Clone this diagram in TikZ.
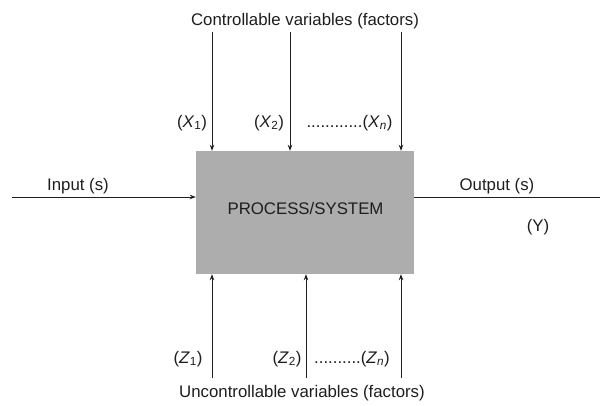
\documentclass[tikz,border=0pt]{standalone}
\usepackage{fontspec}
\setmainfont{Liberation Sans}
\usetikzlibrary{arrows.meta}
\definecolor{boxgray}{HTML}{ADADAD}
\definecolor{ink}{HTML}{1E1E1E}
\tikzset{
  lbl/.style={font=\fontsize{16.8}{20}\selectfont, text=ink, inner sep=0pt},
  arr/.style={draw=ink, line width=0.9pt, -{Stealth[length=6pt,width=4.5pt]}},
  ln/.style={draw=ink, line width=0.9pt},
  procbox/.style={fill=boxgray, draw=none, minimum width=218pt, minimum height=123pt, inner sep=0pt}
}
\begin{document}
\begin{tikzpicture}[x=1pt,y=-1pt]
\useasboundingbox (0,0) rectangle (600,405);
\node[procbox] (proc) at (305,212.5) {};
\node[lbl] (ptext) at (305.5,208) {PROCESS/SYSTEM};
% top
\node[lbl] (ctitle) at (305,21) {Controllable variables (factors)};
\coordinate (t1) at (212,32);
\coordinate (t2) at (290,32);
\coordinate (t3) at (401,32);
\draw[arr] (t1) -- (t1 |- proc.north);
\draw[arr] (t2) -- (t2 |- proc.north);
\draw[arr] (t3) -- (t3 |- proc.north);
\node[lbl] (x1) at (192,122.7) {(\textit{X}\textsubscript{1})};
\node[lbl] (x2) at (269,122.7) {(\textit{X}\textsubscript{2})};
\node[lbl] (xn) at (349.5,122.7) {............(\textit{X}\textsubscript{\textit{n}})};
% bottom
\coordinate (b1) at (212,378);
\coordinate (b2) at (306,378);
\coordinate (b3) at (401,378);
\draw[arr] (b1) -- (b1 |- proc.south);
\draw[arr] (b2) -- (b2 |- proc.south);
\draw[arr] (b3) -- (b3 |- proc.south);
\node[lbl] (z1) at (188,359) {(\textit{Z}\textsubscript{1})};
\node[lbl] (z2) at (287,359) {(\textit{Z}\textsubscript{2})};
\node[lbl] (zn) at (352,359) {..........(\textit{Z}\textsubscript{\textit{n}})};
\node[lbl] (utitle) at (302,393) {Uncontrollable variables (factors)};
% input / output
\coordinate (inp) at (12,197);
\coordinate (outp) at (600,197);
\draw[arr] (inp) -- (inp -| proc.west);
\draw[ln] (outp -| proc.east) -- (outp);
\node[lbl] (intext) at (78,186) {Input (s)};
\node[lbl] (outtext) at (497,186) {Output (s)};
\node[lbl] (ytext) at (538,227) {(Y)};
\end{tikzpicture}
\end{document}
